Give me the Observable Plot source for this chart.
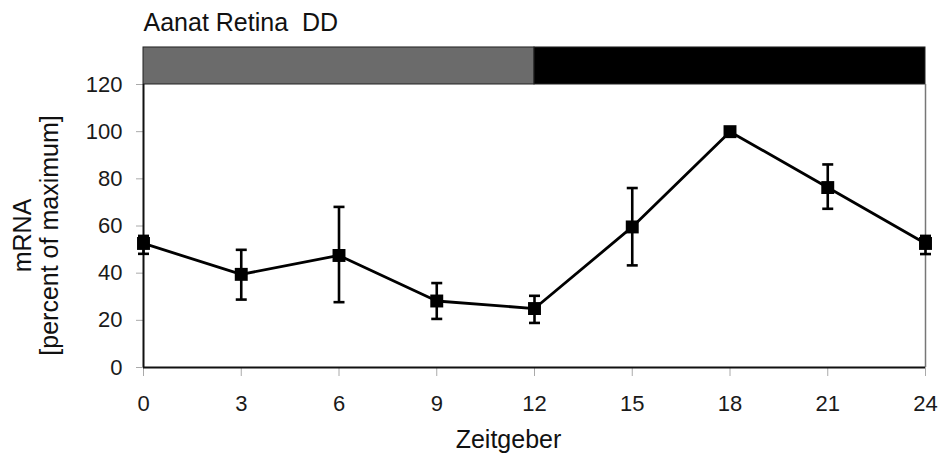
<!DOCTYPE html>
<html>
<head>
<meta charset="utf-8">
<script src="https://cdn.jsdelivr.net/npm/d3@7"></script>
<script src="https://cdn.jsdelivr.net/npm/@observablehq/plot@0.6"></script>
<style>
  html, body { margin: 0; padding: 0; background: #fff; }
  #chart { width: 940px; height: 456px; }
</style>
</head>
<body>
<div id="chart"></div>
<script>
// ---- data ----
const zeitgeber = [0, 3, 6, 9, 12, 15, 18, 21, 24];
const mrnaMean  = [52.6, 39.5, 47.5, 28.2, 25.0, 59.6, 100, 76.3, 52.6];
const errLow    = [48.2, 28.8, 27.7, 20.6, 18.9, 43.3, 100, 67.3, 48.1];
const errHigh   = [55.8, 49.9, 68.1, 35.8, 30.4, 76.1, 100, 86.1, 55.8];

const xTicks = [0, 3, 6, 9, 12, 15, 18, 21, 24];
const yTicks = [0, 20, 40, 60, 80, 100, 120];

// light/dark condition bar (subjective day grey, subjective night black)
const phaseStart = [0, 12];
const phaseEnd   = [12, 24];
const phaseName  = ["subjective day", "subjective night"];
const barBottom = 120, barTop = 135.7;

const titleText = "Aanat Retina  DD";
const yLabel1 = "mRNA";
const yLabel2 = "[percent of maximum]";
const xLabel = "Zeitgeber";

// ---- tables built from arrays ----
const data = zeitgeber.map((z, i) => ({zt: z, mean: mrnaMean[i], lo: errLow[i], hi: errHigh[i]}));
const errData = data.filter(d => d.hi > d.lo);
const phases = phaseStart.map((s, i) => ({start: s, end: phaseEnd[i], phase: phaseName[i]}));

const capSymbol = {
  draw(context) {
    const w = 5.5;
    context.moveTo(-w, 0);
    context.lineTo(w, 0);
  }
};

const font = "'Liberation Sans', Arial, Helvetica, sans-serif";

const chart = Plot.plot({
  width: 940,
  height: 456,
  marginLeft: 143,
  marginRight: 15,
  marginTop: 84,
  marginBottom: 89,
  style: {fontFamily: font, fontSize: "22px", background: "#fff", color: "#111", overflow: "visible"},
  x: {domain: [0, 24]},
  y: {domain: [0, 120]},
  color: {domain: phaseName, range: ["#6b6b6b", "#000000"]},
  marks: [
    Plot.rect(phases, {x1: "start", x2: "end", y1: () => barBottom, y2: () => barTop, fill: "phase", stroke: "#222", strokeWidth: 1}),
    Plot.axisX({ticks: xTicks, tickSize: 9, tickPadding: 19, fontSize: 22, stroke: "#aaa", fill: "#1a1a1a", label: null, tickFormat: d => String(d)}),
    Plot.axisY({ticks: yTicks, tickSize: 7, tickPadding: 14, fontSize: 22, stroke: "#aaa", fill: "#1a1a1a", label: null}),
    Plot.ruleX([24], {stroke: "#777", strokeWidth: 1.5}),
    Plot.ruleY([0], {stroke: "#111", strokeWidth: 2}),
    Plot.ruleX([0], {stroke: "#111", strokeWidth: 2}),
    Plot.ruleX(errData, {x: "zt", y1: "lo", y2: "hi", stroke: "#000", strokeWidth: 2.6}),
    Plot.dot(errData, {x: "zt", y: "lo", symbol: capSymbol, r: 5, stroke: "#000", strokeWidth: 2.6, fill: "none"}),
    Plot.dot(errData, {x: "zt", y: "hi", symbol: capSymbol, r: 5, stroke: "#000", strokeWidth: 2.6, fill: "none"}),
    Plot.line(data, {x: "zt", y: "mean", stroke: "#000", strokeWidth: 2.8}),
    Plot.dot(data, {x: "zt", y: "mean", symbol: "square", r: 7.3, fill: "#000", stroke: "none"}),
    Plot.text([titleText], {frameAnchor: "top-left", text: d => d, textAnchor: "start", lineAnchor: "top", dy: -71, fontSize: 25, fill: "#111"}),
    Plot.text([yLabel1], {frameAnchor: "left", text: d => d, rotate: -90, textAnchor: "middle", lineAnchor: "middle", dx: -121, dy: 9.5, fontSize: 25, fill: "#111"}),
    Plot.text([yLabel2], {frameAnchor: "left", text: d => d, rotate: -90, textAnchor: "middle", lineAnchor: "middle", dx: -94, dy: 9.5, fontSize: 25, fill: "#111"}),
    Plot.text([xLabel], {frameAnchor: "bottom", text: d => d, textAnchor: "middle", lineAnchor: "middle", dx: -26, dy: 72, fontSize: 25, fill: "#111"})
  ]
});
document.getElementById("chart").appendChild(chart);
</script>
</body>
</html>
